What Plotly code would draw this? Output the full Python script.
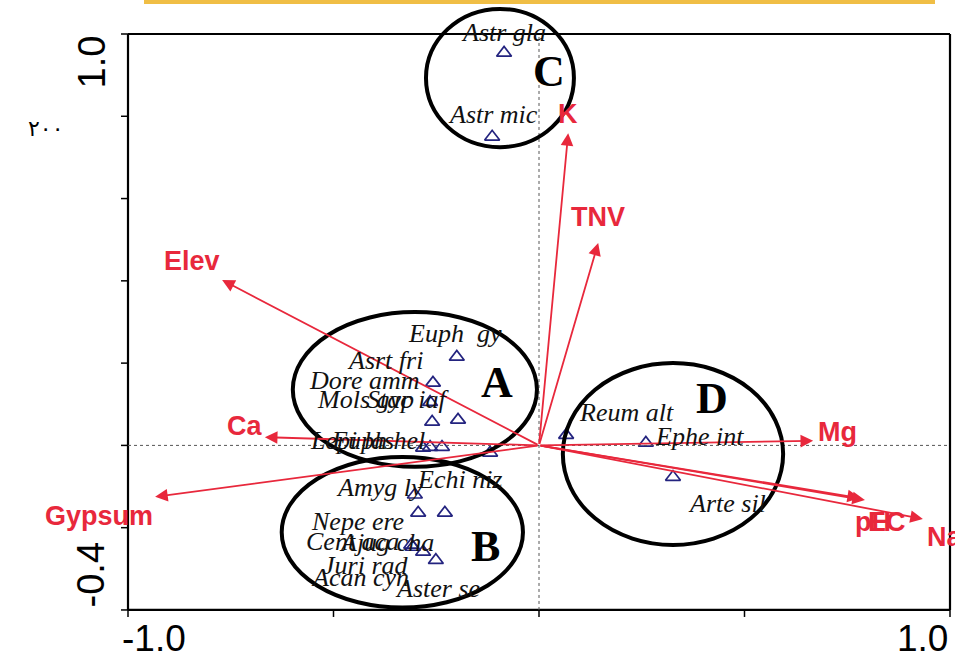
import plotly.graph_objects as go

# ---------------- data ----------------
env_names = ["Elev", "Ca", "Gypsum", "K", "TNV", "Mg", "pH", "EC", "Na"]
env_x = [-0.771, -0.667, -0.934, 0.071, 0.144, 0.667, 0.781, 0.793, 0.934]
env_y = [0.402, 0.020, -0.125, 0.759, 0.492, 0.011, -0.128, -0.133, -0.179]

sp_names = ["Astr gla", "Astr mic", "Euph  gy", "Asrt fri", "Dore amm", "Mols gyp",
            "Stac iaf", "Euph hel", "Lepi las", "", "Echi niz", "Amyg ly",
            "Nepe ere", "Cent aca", "Ajug cha", "Acan cyn", "Juri rad", "Aster se",
            "Reum alt", "Ephe int", "Arte sil"]
sp_x = [-0.085, -0.114, -0.200, -0.258, -0.265, -0.260, -0.197, -0.265, -0.282, -0.236,
        -0.119, -0.302, -0.294, -0.229, -0.307, -0.311, -0.282, -0.251, 0.066, 0.260, 0.326]
sp_y = [0.954, 0.750, 0.215, 0.152, 0.105, 0.057, 0.062, -0.004, -0.006, -0.004,
        -0.018, -0.120, -0.164, -0.164, -0.247, -0.242, -0.259, -0.279, 0.025, 0.006, -0.077]

group_names = ["A", "B", "C", "D"]
x_tick_vals = [-1.0, -0.5, 0.0, 0.5, 1.0]
y_tick_vals = [-0.4, -0.2, 0.0, 0.2, 0.4, 0.6, 0.8, 1.0]
x_tick_text = {-1.0: "-1.0", 1.0: "1.0"}
y_tick_text = {-0.4: "-0.4", 1.0: "1.0"}

# ---------------- styling / layout helpers ----------------
RED = "#E8283C"
NAVY = "#23237F"
W, H = 955, 659
X0PX, XSCALE = 539.0, 411.0
Y0PX, YSCALE = 445.4, 411.4
xr = [(0 - X0PX) / XSCALE, (W - X0PX) / XSCALE]
yr = [(Y0PX - H) / YSCALE, Y0PX / YSCALE]

# label offsets in pixels (dx right, dy up)
env_off = {"Elev": (-30, 19), "Ca": (-20, 11), "Gypsum": (-56, -19), "K": (0, 19),
           "TNV": (0, 26), "Mg": (24, 9), "pH": (13, -24), "EC": (22, -22), "Na": (22, -18)}
sp_off = [(-1, 20), (1, 22), (-2, 23), (-48, 22), (-66, 22), (-67, 22), (-50, 20),
          (-52, 7), (-71, 7), (0, 0), (-30, -27), (-35, 7), (-61, -9), (-92, -29),
          (-26, 5), (-51, -33), (-57, -14), (2, -28), (60, 23), (54, 6), (54, -26)]

# ellipses (data coords): x0, x1, y0, y1 ; letter positions
ellipses = {"A": (-0.599, -0.005, -0.052, 0.324), "B": (-0.626, -0.039, -0.394, -0.028),
            "C": (-0.275, 0.085, 0.725, 1.061), "D": (0.058, 0.594, -0.242, 0.200)}
letters = {"A": (-0.102, 0.152), "B": (-0.131, -0.246), "C": (0.024, 0.908), "D": (0.421, 0.115)}

fig = go.Figure()

fig.add_trace(go.Scatter(
    x=sp_x, y=sp_y, mode="markers",
    marker=dict(symbol="triangle-up-open", size=13, color=NAVY, line=dict(width=1.7, color=NAVY)),
    showlegend=False, hoverinfo="skip"))

shapes = []
annotations = []

# frame
FX0, FX1, FY0, FY1 = -1.0, 1.0, -0.4, 1.0
for (a, b, c, d) in [(FX0, FY0, FX1, FY0), (FX0, FY1, FX1, FY1), (FX0, FY0, FX0, FY1), (FX1, FY0, FX1, FY1)]:
    shapes.append(dict(type="line", xref="x", yref="y", x0=a, y0=b, x1=c, y1=d,
                       line=dict(color="black", width=2.2)))
# dotted zero lines
shapes.append(dict(type="line", xref="x", yref="y", x0=FX0, x1=FX1, y0=0, y1=0,
                   line=dict(color="#555555", width=1, dash="dot")))
shapes.append(dict(type="line", xref="x", yref="y", x0=0, x1=0, y0=FY0, y1=FY1,
                   line=dict(color="#555555", width=1, dash="dot")))
# ticks
for v in x_tick_vals:
    shapes.append(dict(type="line", xref="x", yref="y", ysizemode="pixel", yanchor=FY0,
                       x0=v, x1=v, y0=0, y1=-7, line=dict(color="black", width=1.5)))
for v in y_tick_vals:
    shapes.append(dict(type="line", xref="x", yref="y", xsizemode="pixel", xanchor=FX0,
                       x0=0, x1=-7, y0=v, y1=v, line=dict(color="black", width=1.5)))
# tick labels
for v, t in x_tick_text.items():
    annotations.append(dict(x=v, y=FY0, xref="x", yref="y", text=t, showarrow=False,
                            xanchor="left" if v < 0 else "right", yanchor="top", yshift=-6,
                            xshift=-8 if v < 0 else 0,
                            font=dict(family="Liberation Sans, Arial", size=37, color="black")))
for v, t in y_tick_text.items():
    annotations.append(dict(x=FX0, y=v, xref="x", yref="y", text=t, showarrow=False, textangle=-90,
                            xanchor="right", yanchor="bottom" if v < 0 else "top", xshift=-14,
                            font=dict(family="Liberation Sans, Arial", size=38, color="black")))

# ellipses + letters
for g in group_names:
    x0, x1, y0, y1 = ellipses[g]
    shapes.append(dict(type="circle", xref="x", yref="y", x0=x0, x1=x1, y0=y0, y1=y1,
                       line=dict(color="black", width=4)))
    lx, ly = letters[g]
    annotations.append(dict(x=lx, y=ly, xref="x", yref="y", text="<b>%s</b>" % g, showarrow=False,
                            font=dict(family="Liberation Serif, Times New Roman", size=44, color="black")))

# environmental arrows
for n, ex, ey in zip(env_names, env_x, env_y):
    annotations.append(dict(x=ex, y=ey, ax=0, ay=0, xref="x", yref="y", axref="x", ayref="y",
                            text="", showarrow=True, arrowhead=2, arrowsize=1.4, arrowwidth=1.8,
                            arrowcolor=RED, standoff=0, startstandoff=0))
    dx, dy = env_off[n]
    annotations.append(dict(x=ex, y=ey, xref="x", yref="y", text="<b>%s</b>" % n, showarrow=False,
                            xshift=dx, yshift=dy, xanchor="center", yanchor="middle",
                            font=dict(family="Liberation Sans, Arial", size=27, color=RED)))

# species labels
for n, sx, sy, (dx, dy) in zip(sp_names, sp_x, sp_y, sp_off):
    if not n:
        continue
    annotations.append(dict(x=sx, y=sy, xref="x", yref="y", text="<i>%s</i>" % n, showarrow=False,
                            xshift=dx, yshift=dy, xanchor="center", yanchor="middle",
                            font=dict(family="Liberation Serif, Times New Roman", size=26, color="#111111")))

# scan artefacts: top yellow rule and page number
shapes.append(dict(type="line", xref="paper", yref="paper", x0=144 / W, x1=935 / W,
                   y0=1 - 2 / H, y1=1 - 2 / H, line=dict(color="#F0BE45", width=4)))
annotations.append(dict(x=26 / W, y=1 - 114 / H, xref="paper", yref="paper", text="٢٠٠",
                        showarrow=False, font=dict(family="DejaVu Sans", size=22, color="black")))

fig.update_layout(
    width=W, height=H, margin=dict(l=0, r=0, t=0, b=0),
    paper_bgcolor="white", plot_bgcolor="white",
    xaxis=dict(range=xr, visible=False, fixedrange=True),
    yaxis=dict(range=yr, visible=False, fixedrange=True),
    shapes=shapes, annotations=annotations, showlegend=False)

fig.write_html("out.html", config={"displayModeBar": False},
               post_script="document.body.style.margin='0';document.body.style.overflow='hidden';")
